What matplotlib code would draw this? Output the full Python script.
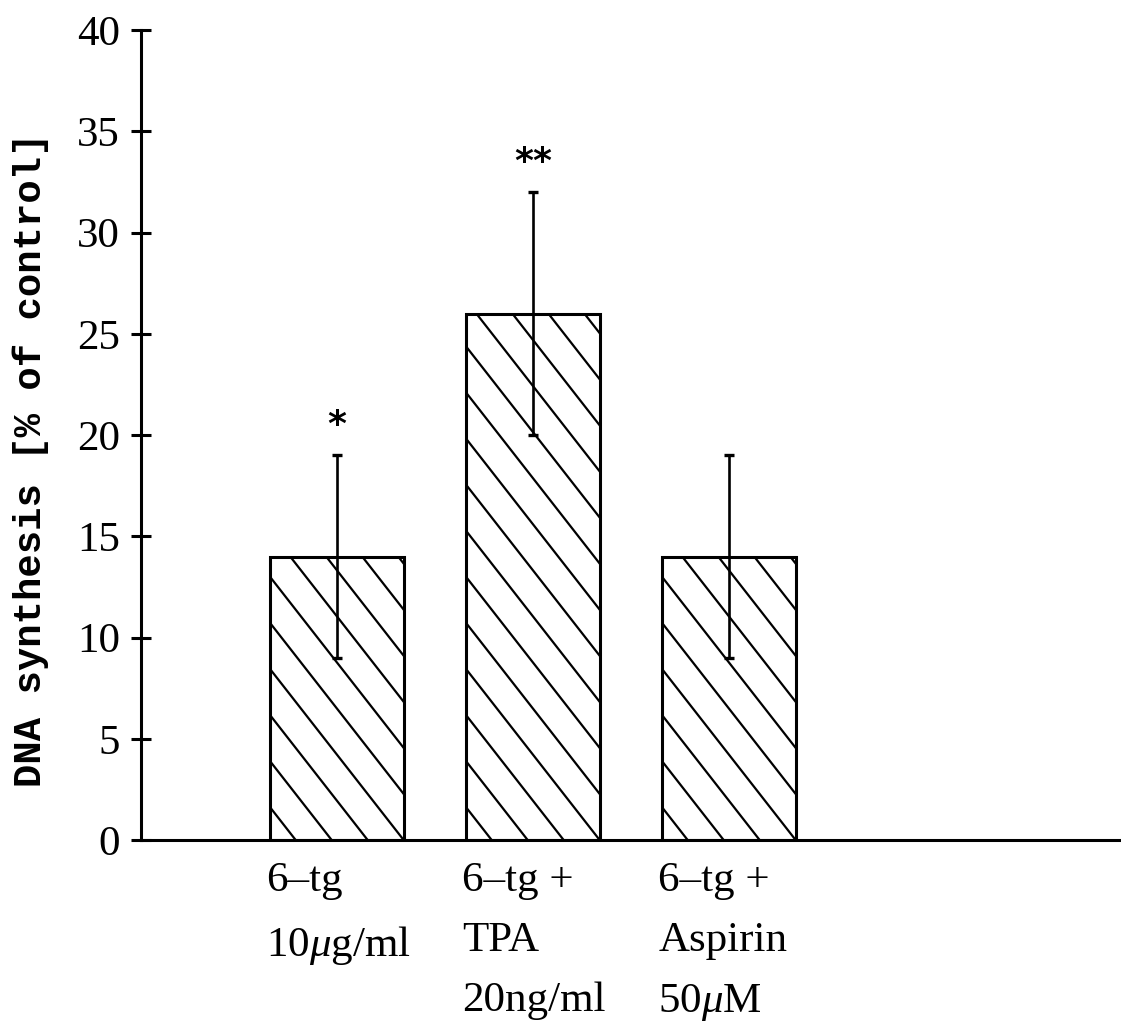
import numpy as np
import matplotlib
matplotlib.use("Agg")
import matplotlib.pyplot as plt
from matplotlib.lines import Line2D

# Data
categories = ["6\u2013tg\n10$\\mu$g/ml",
              "6\u2013tg +\nTPA\n20ng/ml",
              "6\u2013tg +\nAspirin\n50$\\mu$M"]
positions = [1, 2, 3]
values = [14, 26, 14]
errors = [5, 6, 5]
significance = ["*", "**", ""]
yticks = [0, 5, 10, 15, 20, 25, 30, 35, 40]

plt.rcParams["mathtext.fontset"] = "custom"
plt.rcParams["mathtext.rm"] = "Liberation Serif"
plt.rcParams["mathtext.it"] = "Liberation Serif:italic"
plt.rcParams["font.family"] = "Liberation Serif"

W, H = 1121, 1022
fig = plt.figure(figsize=(W / 100, H / 100), dpi=100)
ax = fig.add_axes([141 / W, 1 - 840 / H, 980 / W, 810 / H])
ax.set_xlim(0, 5)
ax.set_ylim(0, 40)

bar_w = 0.68
# white fill underneath the hatching
fills = ax.bar(positions, values, width=bar_w, color="white", edgecolor="none", zorder=1)

# diagonal hatching, drawn in pixel space so the angle and spacing are fixed
hatch_dx = 36.0      # horizontal spacing of hatch lines (px)
hatch_slope = 1.28   # rise per px of run
inv = ax.transData.inverted()
for rect in fills:
    x0, y0 = rect.get_x(), rect.get_y()
    x1, y1 = x0 + rect.get_width(), y0 + rect.get_height()
    (px0, py0) = ax.transData.transform((x0, y0))
    (px1, py1) = ax.transData.transform((x1, y1))
    run = (py1 - py0) / hatch_slope
    k_min = -int(np.ceil(run / hatch_dx)) - 1
    k_max = int(np.ceil((px1 - px0) / hatch_dx)) + 1
    for k in range(k_min, k_max + 1):
        cx = px1 - k * hatch_dx
        L = run + 10
        pts = inv.transform([(cx + 5, py0 - 5 * hatch_slope), (cx - L, py0 + hatch_slope * L)])
        ln = Line2D(pts[:, 0], pts[:, 1], color="black", lw=1.6, zorder=2)
        ax.add_line(ln)
        ln.set_clip_path(rect)

# bar outlines
ax.bar(positions, values, width=bar_w, fill=False, edgecolor="black", linewidth=2.2, zorder=3)

# error bars
ax.errorbar(positions, values, yerr=errors, fmt="none", ecolor="black",
            elinewidth=1.9, capsize=3.8, capthick=2.4, zorder=4)

# significance markers
for x, v, e, s in zip(positions, values, errors, significance):
    if s:
        ax.annotate(s, xy=(x, v + e), xytext=(0, 21.5), textcoords="offset points",
                    ha="center", va="center", fontsize=26, fontweight="bold",
                    family="DejaVu Sans")

# axes styling
for side in ("top", "right"):
    ax.spines[side].set_visible(False)
ax.spines["left"].set_linewidth(2.2)
ax.spines["bottom"].set_linewidth(2.2)

ax.set_yticks(yticks)
ax.set_yticklabels([str(t) for t in yticks])
ax.tick_params(axis="y", direction="inout", length=13.7, width=2.2, pad=8.4, labelsize=31)
ax.set_xticks([])

# category labels, left-aligned under each bar
for x, lab in zip(positions, categories):
    ax.annotate(lab, xy=(x - bar_w / 2, 0), xycoords=("data", "axes fraction"),
                xytext=(-4, -22), textcoords="offset pixels",
                ha="left", va="top", fontsize=31, linespacing=1.72,
                annotation_clip=False)

ax.set_ylabel("DNA synthesis [% of control]", family="Liberation Mono",
              fontweight="bold", fontsize=28)
ax.yaxis.set_label_coords(-0.094, 0.469)

fig.savefig("out.png", dpi=100)
